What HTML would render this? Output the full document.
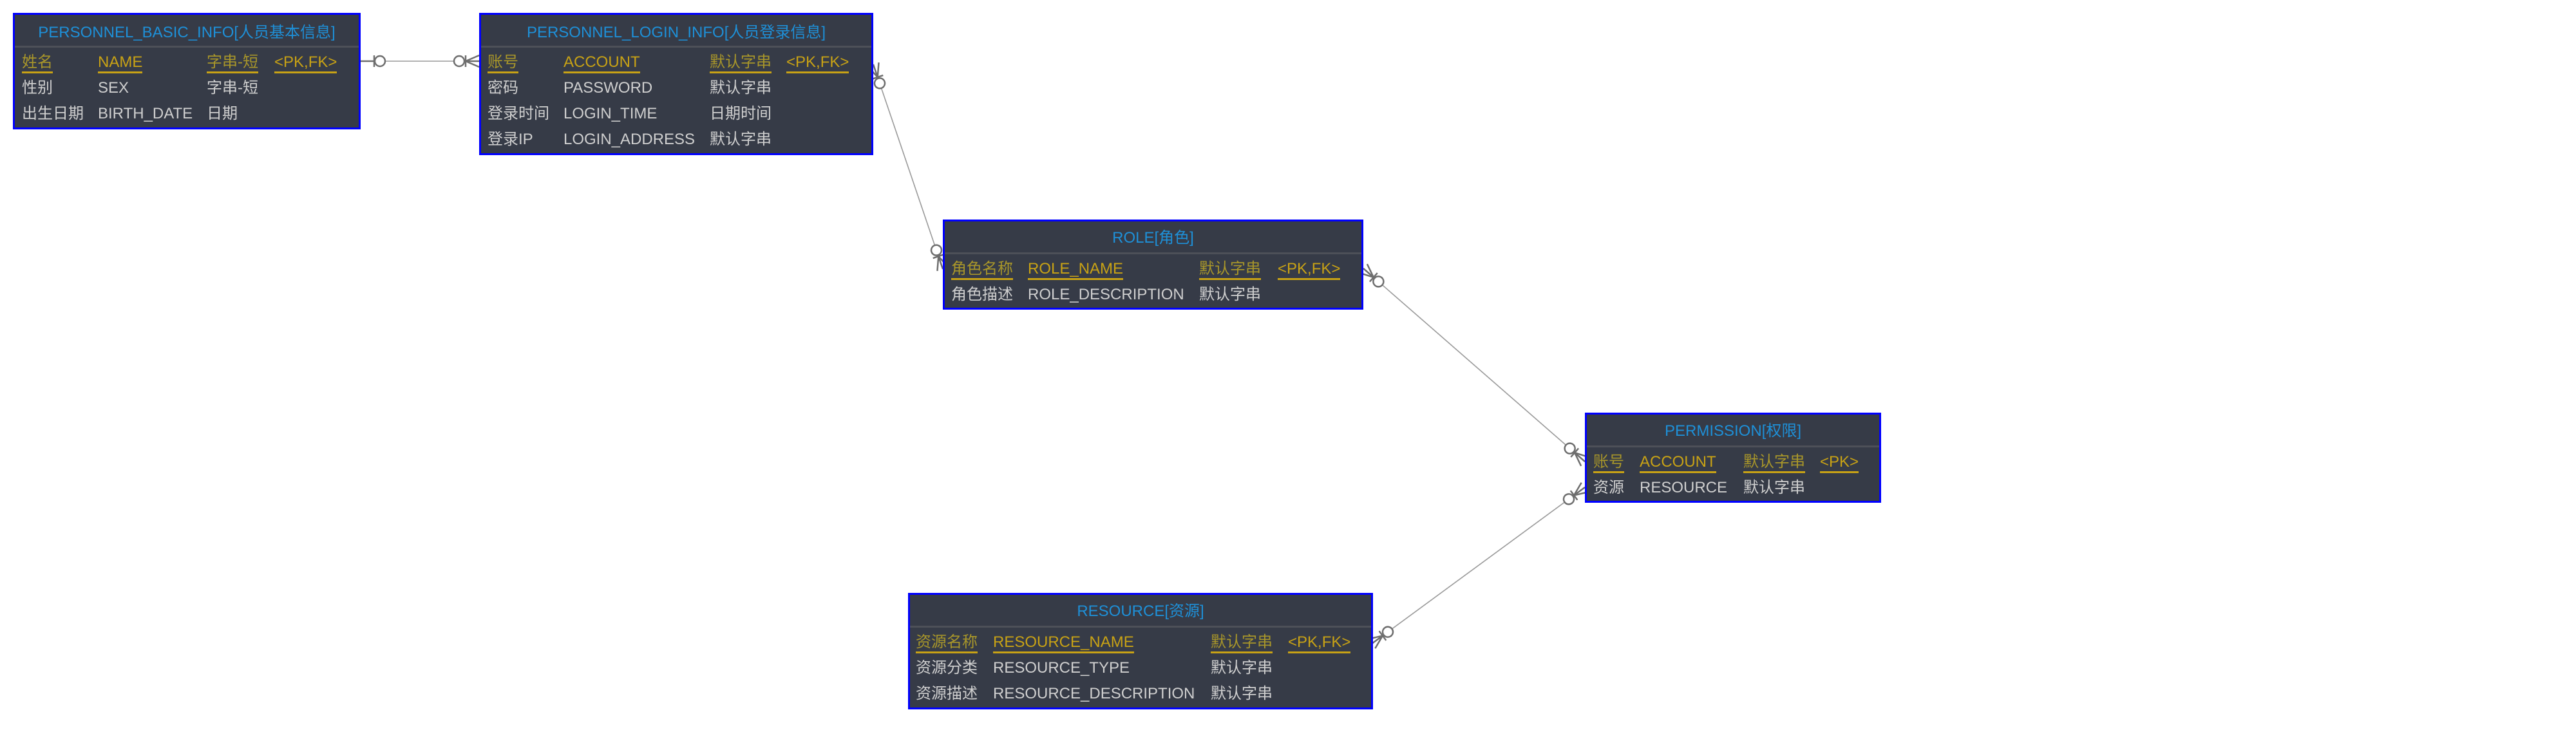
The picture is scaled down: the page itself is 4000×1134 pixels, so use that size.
<!DOCTYPE html>
<html><head><meta charset="utf-8"><style>
body{margin:0;width:4000px;height:1134px;background:#fff;position:relative;overflow:hidden;font-family:"Liberation Sans","Noto Sans CJK SC",sans-serif;font-size:24px;}
.t{position:absolute;background:#363b47;border:3px solid #0000ff;box-sizing:border-box;}
.h{position:absolute;left:0;right:0;text-align:center;color:#1e90d8;line-height:28px;}
.sep{position:absolute;left:0;right:0;height:3px;background:#4d5058;}
.c{position:absolute;line-height:28px;white-space:nowrap;color:#cfcfcf;}
.k{color:#c8a215;border-bottom:3px solid #c8a215;}
.kc{color:#a8962a;border-bottom:3px solid #c8a215;}
svg{position:absolute;left:0;top:0;}
</style></head><body>
<svg width="4000" height="1134">
<g stroke="#999" stroke-width="1.6" fill="none">
<line x1="560" y1="95" x2="744" y2="95"/>
<line x1="1356" y1="100" x2="1464" y2="418"/>
<line x1="2117" y1="417" x2="2461" y2="717"/>
<line x1="2461" y1="757" x2="2130" y2="1000"/>
</g>
<defs>
<g id="one"><line x1="0" y1="0" x2="21" y2="0"/><line x1="21" y1="-9" x2="21" y2="9"/><circle cx="30" cy="0" r="8" fill="#fff"/></g>
<g id="many"><line x1="21" y1="0" x2="0" y2="-9"/><line x1="21" y1="0" x2="0" y2="9"/><line x1="0" y1="0" x2="21" y2="0"/><line x1="21" y1="-9" x2="21" y2="9"/><circle cx="31" cy="0" r="8" fill="#fff"/></g>
</defs>
<g stroke="#6e6e6e" stroke-width="2.5" fill="none">
<use href="#one" transform="translate(560,95)"/>
<use href="#many" transform="translate(744,95) rotate(180)"/>
<use href="#many" transform="translate(1356,100) rotate(71.2)"/>
<use href="#many" transform="translate(1464,418) rotate(251.2)"/>
<use href="#many" transform="translate(2117,417) rotate(41.1)"/>
<use href="#many" transform="translate(2461,717) rotate(221.1)"/>
<use href="#many" transform="translate(2461,757) rotate(143.7)"/>
<use href="#many" transform="translate(2130,1000) rotate(-36.3)"/>
</g>
</svg>

<div class="t" style="left:20px;top:20px;width:540px;height:181px;">
<div class="h" style="top:14px">PERSONNEL_BASIC_INFO[人员基本信息]</div>
<div class="sep" style="top:48px"></div>
<div class="c kc" style="left:11px;top:60px">姓名</div>
<div class="c k" style="left:129px;top:60px">NAME</div>
<div class="c kc" style="left:298px;top:60px">字串-短</div>
<div class="c k" style="left:403px;top:60px">&lt;PK,FK&gt;</div>
<div class="c" style="left:11px;top:100px">性别</div>
<div class="c" style="left:129px;top:100px">SEX</div>
<div class="c" style="left:298px;top:100px">字串-短</div>
<div class="c" style="left:11px;top:140px">出生日期</div>
<div class="c" style="left:129px;top:140px">BIRTH_DATE</div>
<div class="c" style="left:298px;top:140px">日期</div>
</div>

<div class="t" style="left:744px;top:20px;width:612px;height:221px;">
<div class="h" style="top:14px">PERSONNEL_LOGIN_INFO[人员登录信息]</div>
<div class="sep" style="top:48px"></div>
<div class="c kc" style="left:10px;top:60px">账号</div>
<div class="c k" style="left:128px;top:60px">ACCOUNT</div>
<div class="c kc" style="left:355px;top:60px">默认字串</div>
<div class="c k" style="left:474px;top:60px">&lt;PK,FK&gt;</div>
<div class="c" style="left:10px;top:100px">密码</div>
<div class="c" style="left:128px;top:100px">PASSWORD</div>
<div class="c" style="left:355px;top:100px">默认字串</div>
<div class="c" style="left:10px;top:140px">登录时间</div>
<div class="c" style="left:128px;top:140px">LOGIN_TIME</div>
<div class="c" style="left:355px;top:140px">日期时间</div>
<div class="c" style="left:10px;top:180px">登录IP</div>
<div class="c" style="left:128px;top:180px">LOGIN_ADDRESS</div>
<div class="c" style="left:355px;top:180px">默认字串</div>
</div>

<div class="t" style="left:1464px;top:341px;width:653px;height:140px;">
<div class="h" style="top:12px">ROLE[角色]</div>
<div class="sep" style="top:48px"></div>
<div class="c kc" style="left:10px;top:60px">角色名称</div>
<div class="c k" style="left:129px;top:60px">ROLE_NAME</div>
<div class="c kc" style="left:395px;top:60px">默认字串</div>
<div class="c k" style="left:517px;top:60px">&lt;PK,FK&gt;</div>
<div class="c" style="left:10px;top:100px">角色描述</div>
<div class="c" style="left:129px;top:100px">ROLE_DESCRIPTION</div>
<div class="c" style="left:395px;top:100px">默认字串</div>
</div>

<div class="t" style="left:2461px;top:641px;width:460px;height:140px;">
<div class="h" style="top:12px">PERMISSION[权限]</div>
<div class="sep" style="top:48px"></div>
<div class="c kc" style="left:10px;top:60px">账号</div>
<div class="c k" style="left:82px;top:60px">ACCOUNT</div>
<div class="c kc" style="left:243px;top:60px">默认字串</div>
<div class="c k" style="left:362px;top:60px">&lt;PK&gt;</div>
<div class="c" style="left:10px;top:100px">资源</div>
<div class="c" style="left:82px;top:100px">RESOURCE</div>
<div class="c" style="left:243px;top:100px">默认字串</div>
</div>

<div class="t" style="left:1410px;top:921px;width:722px;height:181px;">
<div class="h" style="top:12px">RESOURCE[资源]</div>
<div class="sep" style="top:48px"></div>
<div class="c kc" style="left:9px;top:60px">资源名称</div>
<div class="c k" style="left:129px;top:60px">RESOURCE_NAME</div>
<div class="c kc" style="left:467px;top:60px">默认字串</div>
<div class="c k" style="left:587px;top:60px">&lt;PK,FK&gt;</div>
<div class="c" style="left:9px;top:100px">资源分类</div>
<div class="c" style="left:129px;top:100px">RESOURCE_TYPE</div>
<div class="c" style="left:467px;top:100px">默认字串</div>
<div class="c" style="left:9px;top:140px">资源描述</div>
<div class="c" style="left:129px;top:140px">RESOURCE_DESCRIPTION</div>
<div class="c" style="left:467px;top:140px">默认字串</div>
</div>
</body></html>
